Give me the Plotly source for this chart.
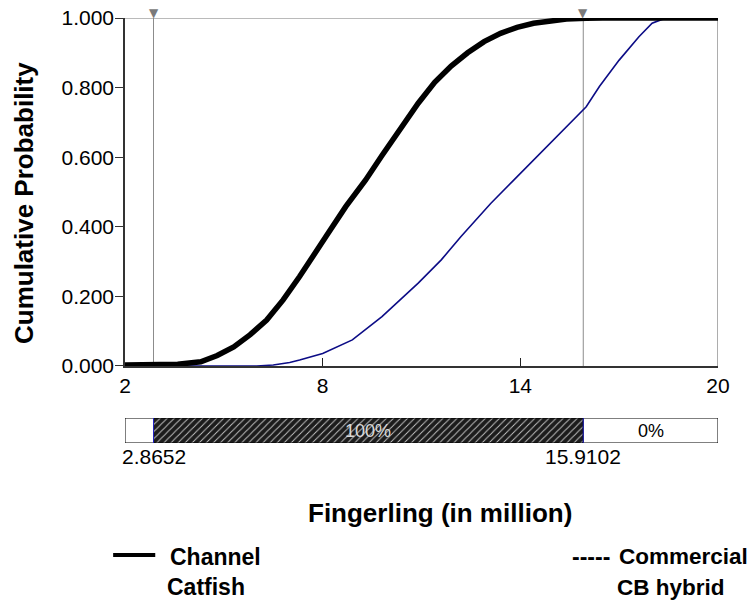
import plotly.graph_objects as go

# ---------------- data ----------------
catfish_x = [2.0, 3.0, 3.6, 4.3, 4.8, 5.3, 5.8, 6.3, 6.8, 7.3, 7.7, 8.1, 8.7, 9.3, 9.8,
             10.35, 10.9, 11.4, 11.9, 12.4, 12.9, 13.4, 13.9, 14.4, 14.9, 15.4, 16.0, 16.5, 20.0]
catfish_y = [0.003, 0.003, 0.005, 0.012, 0.030, 0.055, 0.090, 0.132, 0.190, 0.257, 0.312, 0.372,
             0.458, 0.534, 0.605, 0.680, 0.755, 0.815, 0.862, 0.900, 0.932, 0.956, 0.973, 0.985,
             0.992, 0.997, 0.999, 1.0, 1.0]

hybrid_x = [2.0, 6.0, 6.5, 7.0, 7.3, 8.0, 8.9, 9.8, 10.9, 11.6, 12.2, 13.1, 13.8, 14.4, 15.0,
            15.6, 16.0, 16.4, 17.0, 17.6, 18.0, 18.3, 18.6, 20.0]
hybrid_y = [0.0, 0.0, 0.003, 0.010, 0.017, 0.036, 0.075, 0.142, 0.238, 0.305, 0.372, 0.467,
            0.534, 0.592, 0.649, 0.707, 0.745, 0.803, 0.879, 0.946, 0.985, 0.996, 1.0, 1.0]

marker_values = [2.8652, 15.9102]
marker_labels = ["2.8652", "15.9102"]
bar_bounds = [2.0, 2.8652, 15.9102, 20.0]
bar_labels = ["", "100%", "0%"]

x_ticks = [2, 8, 14, 20]
y_ticks = [0.0, 0.2, 0.4, 0.6, 0.8, 1.0]

FONT = "Arial, Liberation Sans, sans-serif"
BLUE = "#0c0c86"
GRAY = "#8c8c8c"

fig = go.Figure()

# vertical marker lines
for v in marker_values:
    fig.add_trace(go.Scatter(x=[v, v], y=[0, 1], mode="lines",
                             line=dict(color=GRAY, width=1), hoverinfo="skip",
                             showlegend=False, xaxis="x", yaxis="y"))

fig.add_trace(go.Scatter(x=hybrid_x, y=hybrid_y, mode="lines",
                         line=dict(color=BLUE, width=1.6), name="Commercial CB hybrid",
                         showlegend=False, xaxis="x", yaxis="y"))
fig.add_trace(go.Scatter(x=catfish_x, y=catfish_y, mode="lines",
                         line=dict(color="black", width=5.5), name="Channel Catfish",
                         showlegend=False, xaxis="x", yaxis="y"))

# bottom range bar
seg_starts = bar_bounds[:-1]
seg_widths = [bar_bounds[i + 1] - bar_bounds[i] for i in range(len(bar_bounds) - 1)]
for i, (s, w) in enumerate(zip(seg_starts, seg_widths)):
    if i == 1:
        marker = dict(color="#1c1c1c", line=dict(color="black", width=1),
                      pattern=dict(shape="/", fgcolor="#c8c8c8", bgcolor="#1c1c1c",
                                   size=5, solidity=0.18, fillmode="replace"))
    else:
        marker = dict(color="white", line=dict(color="black", width=1))
    fig.add_trace(go.Bar(x=[w], base=[s], y=[0.5], orientation="h", width=1,
                         marker=marker, showlegend=False, hoverinfo="skip",
                         xaxis="x2", yaxis="y2"))
for v in marker_values:
    fig.add_trace(go.Scatter(x=[v, v], y=[0, 1], mode="lines",
                             line=dict(color="#2020c0", width=1), hoverinfo="skip",
                             showlegend=False, xaxis="x2", yaxis="y2"))

annotations = []
# triangles sitting on the top edge at the marker values
for v in marker_values:
    annotations.append(dict(x=v, y=1, xref="x", yref="y", text="▼", showarrow=False,
                            yanchor="bottom", yshift=-4,
                            font=dict(family="DejaVu Sans", size=12, color="#7a7a7a")))
for i, lab in enumerate(bar_labels):
    if lab:
        annotations.append(dict(x=(bar_bounds[i] + bar_bounds[i + 1]) / 2, y=0.5,
                                xref="x2", yref="y2", text=lab, showarrow=False,
                                font=dict(family=FONT, size=18,
                                          color="#d8d8d8" if i == 1 else "black")))
for v, lab in zip(marker_values, marker_labels):
    annotations.append(dict(x=v, y=-0.0306, xref="x", yref="paper", text=lab,
                            showarrow=False, yanchor="middle",
                            font=dict(family=FONT, size=21, color="black")))

LEG = dict(family=FONT, size=23, color="black")
annotations += [
    dict(x=0.531, y=-0.1647, xref="paper", yref="paper", text="<b>Fingerling (in million)</b>",
         showarrow=False, yanchor="middle", font=dict(family=FONT, size=26, color="black")),
    dict(x=-0.1703, y=0.5647, xref="paper", yref="paper", text="<b>Cumulative Probability</b>",
         textangle=-90, showarrow=False, xanchor="center", yanchor="middle",
         font=dict(family=FONT, size=26, color="black")),
    dict(x=0.0725, y=-0.268, xref="paper", yref="paper", text="<b>Channel</b>",
         xanchor="left", yanchor="middle", showarrow=False, font=LEG),
    dict(x=0.0675, y=-0.339, xref="paper", yref="paper", text="<b>Catfish</b>",
         xanchor="left", yanchor="middle", showarrow=False, font=LEG),
    dict(x=0.821, y=-0.268, xref="paper", yref="paper", text="<b>-----</b>",
         xanchor="right", yanchor="middle", showarrow=False, font=LEG),
    dict(x=0.830, y=-0.268, xref="paper", yref="paper", text="<b>Commercial</b>",
         xanchor="left", yanchor="middle", showarrow=False,
         font=dict(family=FONT, size=22.5, color="black")),
    dict(x=0.826, y=-0.339, xref="paper", yref="paper", text="<b>CB hybrid</b>",
         xanchor="left", yanchor="middle", showarrow=False,
         font=dict(family=FONT, size=22.5, color="black")),
]

shapes = [
    dict(type="line", xref="paper", yref="paper", x0=-0.020, x1=0.051, y0=-0.2635, y1=-0.2635,
         line=dict(color="black", width=4)),
    dict(type="line", xref="x", yref="y", x0=2, x1=20, y0=1, y1=1,
         line=dict(color="#777", width=1.2), layer="below"),
    dict(type="line", xref="x", yref="y", x0=20, x1=20, y0=0, y1=1,
         line=dict(color="#777", width=1.2), layer="below"),
]

fig.update_layout(
    width=755, height=600,
    margin=dict(l=125, r=37, t=18, b=157, autoexpand=False),
    paper_bgcolor="white", plot_bgcolor="white",
    font=dict(family=FONT, color="black"),
    barmode="overlay",
    hovermode=False,
    xaxis=dict(domain=[0, 1], range=[2, 20], tickvals=x_ticks, ticktext=[str(t) for t in x_ticks],
               ticks="inside", ticklen=8, tickcolor="#222", showgrid=False, zeroline=False,
               showline=True, linecolor="#333", linewidth=1.5, mirror=False, automargin=False,
               ticklabeloverflow="allow",
               tickfont=dict(family=FONT, size=21, color="black"), anchor="y"),
    yaxis=dict(domain=[0.1812, 1], range=[0, 1], tickvals=y_ticks, tickformat=".3f",
               ticks="outside", ticklen=8, tickcolor="#333", showgrid=False, zeroline=False,
               showline=True, linecolor="#333", linewidth=1.5, automargin=False,
               ticklabelstandoff=-3, ticklabeloverflow="allow",
               tickfont=dict(family=FONT, size=21, color="black"), anchor="x"),
    xaxis2=dict(domain=[0, 1], range=[2, 20], matches="x", visible=False, anchor="y2",
                automargin=False),
    yaxis2=dict(domain=[0, 0.0588], range=[0, 1], visible=False, anchor="x2", automargin=False),
    annotations=annotations,
    shapes=shapes,
)

# remove the default page margin so the 755x600 figure fills the window exactly
fig.write_html("out.html",
               config={"displayModeBar": False},
               post_script="document.body.style.margin='0';document.body.style.overflow='hidden';")
